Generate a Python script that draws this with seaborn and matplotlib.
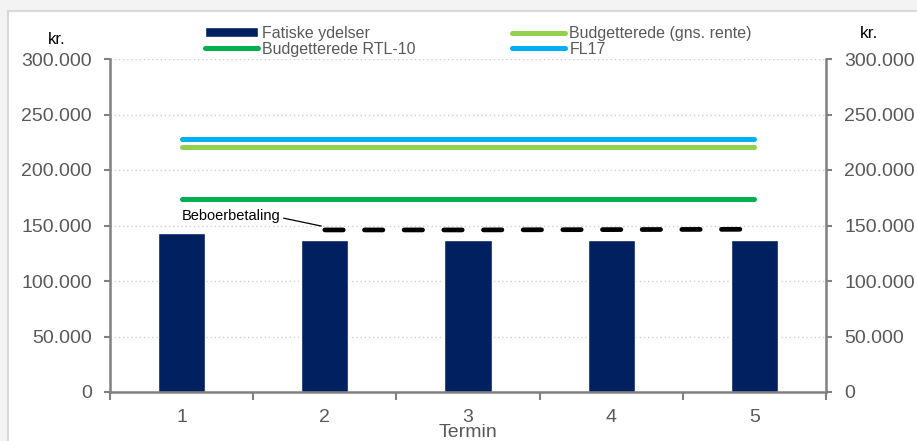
import matplotlib
matplotlib.use("Agg")
import matplotlib.pyplot as plt
from matplotlib.patches import Rectangle
from matplotlib.ticker import FuncFormatter, FixedLocator
import seaborn as sns
import pandas as pd

# Values per payment term
termin = [1, 2, 3, 4, 5]
fatiske_ydelser = [143000, 136500, 136500, 136500, 136500]
budget_gns_rente = [221000, 221000, 221000, 221000, 221000]
budget_rtl10 = [174000, 174000, 174000, 174000, 174000]
fl17 = [228000, 228000, 228000, 228000, 228000]
beboer_termin = [2, 3, 4, 5]
beboerbetaling = [146000, 146000, 146300, 146600]

y_ticks = [0, 50000, 100000, 150000, 200000, 250000, 300000]

navy = "#002060"
light_green = "#92D050"
green = "#00B050"
blue = "#00B0F0"
grey_text = "#595959"
spine_grey = "#808080"

sns.set_theme(style="white")
plt.rcParams["font.family"] = ["Liberation Sans", "DejaVu Sans"]

W, H = 917, 441
fig = plt.figure(figsize=(W / 100, H / 100), dpi=100, facecolor="#f3f3f3")

# white card behind the chart
card_top = (H - 11) / H
fig.patches.append(Rectangle((8 / W, -0.1), 1.2, card_top + 0.1,
                             transform=fig.transFigure, facecolor="white",
                             edgecolor="#d9d9d9", linewidth=1.5, zorder=-5))

ax = fig.add_axes([110 / W, 49 / H, 716 / W, 333 / H])
ax.set_facecolor("none")
ax.set_zorder(2)

df_bar = pd.DataFrame({"Termin": termin, "Fatiske ydelser": fatiske_ydelser})
sns.barplot(data=df_bar, x="Termin", y="Fatiske ydelser", native_scale=True,
            color=navy, saturation=1, width=0.33, ax=ax, zorder=3,
            label="Fatiske ydelser")

line_specs = [
    (budget_rtl10, green, "Budgetterede RTL-10"),
    (budget_gns_rente, light_green, "Budgetterede (gns. rente)"),
    (fl17, blue, "FL17"),
]
for values, col, name in line_specs:
    sns.lineplot(x=termin, y=values, color=col, linewidth=3.6, ax=ax,
                 solid_capstyle="round", label=name, zorder=4)

sns.lineplot(x=beboer_termin, y=beboerbetaling, color="black", linewidth=3.4,
             ax=ax, zorder=4, legend=False)
dash_line = ax.lines[-1]
dash_line.set_dashes((3.9, 4.5))
dash_line.set_dash_capstyle("round")

ax.annotate("Beboerbetaling", xy=(1.975, 149500), xytext=(1.0, 158500),
            ha="left", va="center", fontsize=10.5, color="black",
            arrowprops=dict(arrowstyle="-", color="black", lw=0.9,
                            relpos=(1.0, 0.4), shrinkA=0, shrinkB=0),
            zorder=5)

ax.set_xlim(0.5, 5.5)
ax.set_ylim(0, 300000)
ax.set_yticks(y_ticks)
ax.yaxis.set_major_formatter(FuncFormatter(lambda v, p: f"{v:,.0f}".replace(",", ".")))
ax.set_xticks(termin)
ax.set_xticklabels([str(t) for t in termin])
ax.xaxis.set_minor_locator(FixedLocator([0.5, 1.5, 2.5, 3.5, 4.5, 5.5]))

ax.grid(axis="y", color="#d0d0d0", linestyle=(0, (1, 2)), linewidth=1.0, zorder=1)
ax.grid(axis="x", visible=False)

for side in ["left", "right", "bottom"]:
    ax.spines[side].set_visible(True)
    ax.spines[side].set_color(spine_grey)
    ax.spines[side].set_linewidth(1.8)
    ax.spines[side].set_zorder(6)
ax.spines["top"].set_visible(False)

ax.tick_params(axis="y", which="major", left=True, right=True, labelleft=True,
               labelright=True, direction="out", length=4, width=1.5,
               color=spine_grey, labelsize=14, labelcolor=grey_text, pad=9)
ax.tick_params(axis="x", which="major", bottom=False, labelsize=14,
               labelcolor=grey_text, pad=6)
ax.tick_params(axis="x", which="minor", bottom=True, direction="out", length=6,
               width=1.5, color=spine_grey)

ax.set_xlabel("Termin", fontsize=14, color=grey_text, labelpad=-1)
ax.set_ylabel("")

fig.text(57 / W, 1 - 39 / H, "kr.", fontsize=12, color="black",
         ha="center", va="center")
fig.text(869 / W, 1 - 33 / H, "kr.", fontsize=12.5, color="black",
         ha="center", va="center")

handles, labels = ax.get_legend_handles_labels()
order = ["Fatiske ydelser", "Budgetterede RTL-10", "Budgetterede (gns. rente)", "FL17"]
hmap = dict(zip(labels, handles))
ax.legend([hmap[k] for k in order], order, ncol=2, frameon=False,
          loc="upper left", bbox_to_anchor=(205 / W, 1 - 26 / H),
          bbox_transform=fig.transFigure, borderpad=0, borderaxespad=0,
          fontsize=11.5, labelcolor=grey_text, handlelength=3.3,
          handleheight=0.6, handletextpad=0.3, columnspacing=6.0,
          labelspacing=0.05)

fig.savefig("out.png", dpi=100, facecolor=fig.get_facecolor())
